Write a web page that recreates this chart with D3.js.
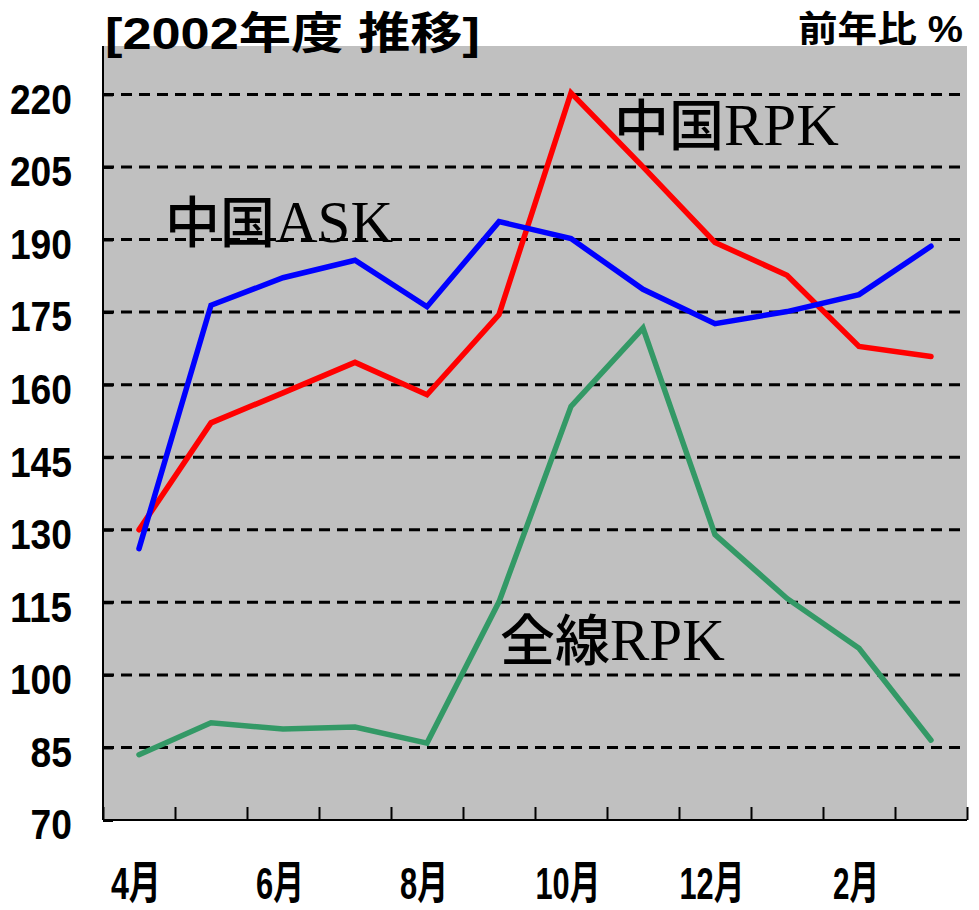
<!DOCTYPE html>
<html>
<head>
<meta charset="utf-8">
<script src="https://cdn.jsdelivr.net/npm/d3@7"></script>
<style>
  body { margin: 0; background: #fff; }
  svg { display: block; }
</style>
</head>
<body>
<div class="canvas"></div>
<script>
const months = ["4月", "5月", "6月", "7月", "8月", "9月", "10月", "11月", "12月", "1月", "2月", "3月"];
const shownMonths = ["4月", "6月", "8月", "10月", "12月", "2月"];
const yTicks = [70, 85, 100, 115, 130, 145, 160, 175, 190, 205, 220];

// 前年比 %
const chinaRPK = [130, 152.1, 158.3, 164.6, 157.9, 174.5, 220.3, 205, 189.4, 182.6, 167.9, 165.8];
const chinaASK = [126.1, 176.4, 182.1, 185.7, 176.1, 193.7, 190.2, 179.7, 172.6, 175.1, 178.6, 188.6];
const allRPK = [83.5, 90.1, 88.8, 89.2, 85.9, 115.1, 155.5, 171.7, 129, 115.8, 105.5, 86.5];

const w = 979;
const h = 910;
const margin = { top: 46, right: 12, bottom: 90, left: 103 };

const svg = d3.select(".canvas")
  .append("svg")
  .attr("width", w)
  .attr("height", h);

const cnFont = "'Noto Sans CJK JP', 'Noto Sans CJK SC', sans-serif";
const sansFont = "'Liberation Sans', Arial, " + cnFont;

// scales
const x = d3.scaleBand()
  .domain(months)
  .range([margin.left, w - margin.right])
  .padding(0);

const xEdge = d3.scaleLinear()
  .domain([0, months.length])
  .range([margin.left, w - margin.right]);

const y = d3.scaleLinear()
  .domain([70, 230])
  .range([h - margin.bottom, margin.top]);

// plot background
svg.append("rect")
  .attr("x", margin.left)
  .attr("y", margin.top)
  .attr("width", w - margin.right - margin.left)
  .attr("height", h - margin.bottom - margin.top)
  .attr("fill", "#c0c0c0");

// dashed grid lines
svg.append("g")
  .selectAll("line")
  .data(yTicks.filter(d => d > 70))
  .enter()
  .append("line")
  .attr("x1", margin.left)
  .attr("x2", w - margin.right)
  .attr("y1", d => y(d))
  .attr("y2", d => y(d))
  .attr("stroke", "#000")
  .attr("stroke-width", 3)
  .attr("stroke-dasharray", "11,7");

// y axis (condensed digits like a narrow font)
const yAxisGroup = svg.append("g")
  .attr("transform", `translate(${margin.left}, 0)`)
  .call(d3.axisLeft(y).tickValues(yTicks).tickSize(-10).tickPadding(31));
yAxisGroup.select(".domain")
  .attr("stroke", "#000")
  .attr("stroke-width", 2)
  .attr("d", `M0,${margin.top}V${h - margin.bottom}`);
yAxisGroup.selectAll(".tick line").attr("stroke-width", 3);
yAxisGroup.selectAll("text")
  .attr("dy", "0.45em")
  .attr("textLength", d => String(d).length * 20.7)
  .attr("lengthAdjust", "spacingAndGlyphs")
  .style("font-family", sansFont)
  .style("font-weight", "bold")
  .style("font-size", "42px")
  .attr("fill", "#000");

// x axis: ticks at the month boundaries
const xTickGroup = svg.append("g")
  .attr("transform", `translate(0, ${h - margin.bottom})`)
  .call(d3.axisBottom(xEdge).tickValues(d3.range(0, months.length + 1)).tickSize(-13).tickFormat(""));
xTickGroup.select(".domain").attr("stroke-width", 2).attr("d", `M${margin.left},0H${w - margin.right}`);
xTickGroup.selectAll(".tick line").attr("stroke-width", 2);

// x labels, every other month
const labelWidth = { "4月": 50, "6月": 48, "8月": 48, "10月": 65, "12月": 65, "2月": 46 };
const xLabelGroup = svg.append("g")
  .attr("transform", `translate(-3, ${h - margin.bottom})`)
  .call(d3.axisBottom(x).tickSize(0).tickPadding(47)
    .tickFormat(d => shownMonths.includes(d) ? d : ""));
xLabelGroup.select(".domain").remove();
xLabelGroup.selectAll("text")
  .style("font-family", sansFont)
  .style("font-weight", "bold")
  .style("font-size", "45px")
  .attr("fill", "#000")
  .each(function (d) {
    if (labelWidth[d]) {
      d3.select(this).attr("textLength", labelWidth[d]).attr("lengthAdjust", "spacingAndGlyphs");
    }
  });

// lines
const line = d3.line()
  .x((d, i) => x(months[i]) + x.bandwidth() / 2)
  .y(d => y(d));

const series = [
  { name: "中国RPK", values: chinaRPK, color: "#ff0000", width: 5.5 },
  { name: "中国ASK", values: chinaASK, color: "#0000ff", width: 5.5 },
  { name: "全線RPK", values: allRPK, color: "#339966", width: 5.5 }
];

svg.append("g")
  .selectAll("path")
  .data(series)
  .enter()
  .append("path")
  .attr("d", d => line(d.values))
  .attr("fill", "none")
  .attr("stroke", d => d.color)
  .attr("stroke-width", d => d.width)
  .attr("stroke-linejoin", "miter")
  .attr("stroke-linecap", "round");

// series labels inside the plot
const seriesLabels = [
  { cn: "中国", en: "ASK", x: 165, y: 242 },
  { cn: "中国", en: "RPK", x: 614, y: 145 },
  { cn: "全線", en: "RPK", x: 500, y: 660 }
];
const lab = svg.append("g")
  .selectAll("text")
  .data(seriesLabels)
  .enter()
  .append("text")
  .attr("x", d => d.x)
  .attr("y", d => d.y)
  .attr("fill", "#000");
lab.append("tspan")
  .style("font-family", cnFont)
  .style("font-size", "55px")
  .style("font-weight", 500)
  .text(d => d.cn);
lab.append("tspan")
  .style("font-family", "'Liberation Serif', 'Times New Roman', serif")
  .style("font-size", "59px")
  .text(d => d.en);

// title and unit
svg.append("text")
  .attr("x", 105)
  .attr("y", 49)
  .attr("textLength", 375)
  .attr("lengthAdjust", "spacingAndGlyphs")
  .style("font-family", sansFont)
  .style("font-weight", "bold")
  .style("font-size", "44px")
  .text("[2002年度 推移]");

svg.append("text")
  .attr("x", 798)
  .attr("y", 42)
  .attr("textLength", 165)
  .attr("lengthAdjust", "spacingAndGlyphs")
  .style("font-family", sansFont)
  .style("font-weight", "bold")
  .style("font-size", "36px")
  .text("前年比 %");
</script>
</body>
</html>
